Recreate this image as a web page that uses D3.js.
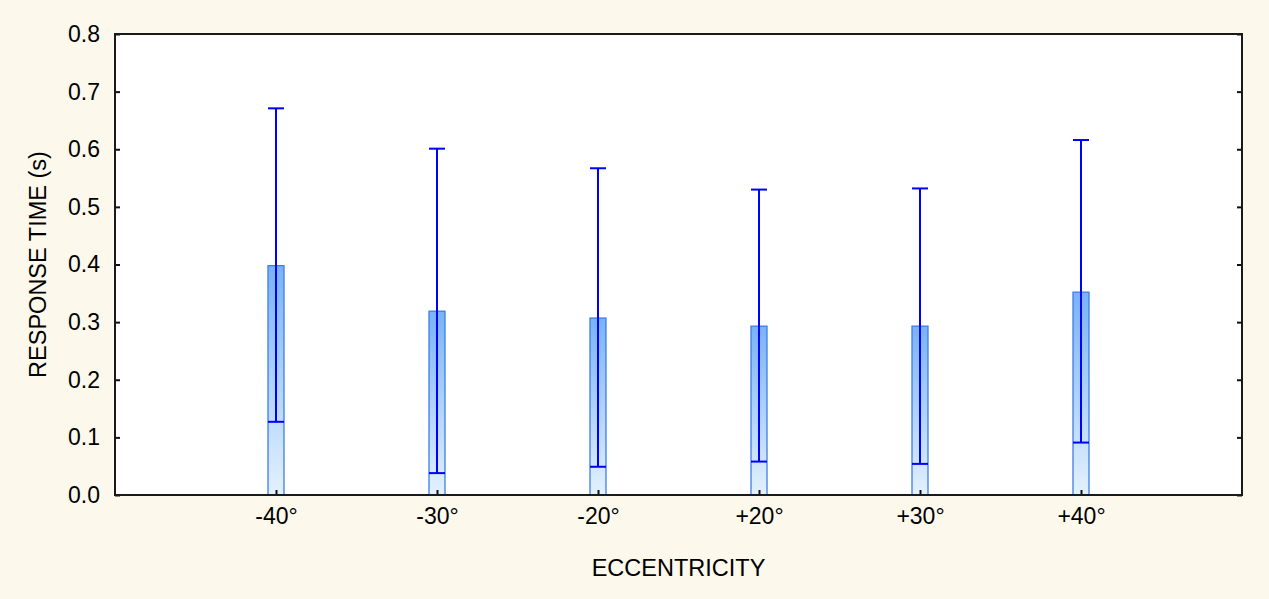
<!DOCTYPE html>
<html lang="en">
<head>
    <meta charset="UTF-8">
    <title>Response time by eccentricity</title>
    <style>
        body {
            margin: 0;
            padding: 0;
            background-color: #fdf8ec;
            font-family: "Liberation Sans", Arial, sans-serif;
        }

        .axis text {
            font-size: 23px;
            fill: #000;
        }

        .title {
            font-size: 23.5px;
            fill: #000;
        }
    </style>
</head>
<body>

<svg width="1269" height="599" id="chart"></svg>

<script src="https://d3js.org/d3.v7.min.js"></script>
<script>
    // Data
    const categories = ["-40°", "-30°", "-20°", "+20°", "+30°", "+40°"];
    const means = [0.398, 0.319, 0.307, 0.293, 0.293, 0.352];
    const upper = [0.671, 0.601, 0.567, 0.530, 0.532, 0.616];
    const lower = [0.127, 0.038, 0.049, 0.058, 0.054, 0.091];
    const yTicks = [0, 0.1, 0.2, 0.3, 0.4, 0.5, 0.6, 0.7, 0.8];

    const svg = d3.select("#chart");

    // Plot frame
    const margin = { top: 34, right: 27, bottom: 104, left: 115 };
    const width = 1269 - margin.left - margin.right;
    const height = 599 - margin.top - margin.bottom;

    const xScale = d3.scalePoint()
        .domain(categories)
        .range([0, width])
        .padding(1);

    const yScale = d3.scaleLinear()
        .domain([0, 0.8])
        .range([height, 0]);

    const defs = svg.append("defs");
    const grad = defs.append("linearGradient")
        .attr("id", "barFill")
        .attr("x1", 0).attr("y1", 0)
        .attr("x2", 0).attr("y2", 1);
    grad.append("stop").attr("offset", "0%").attr("stop-color", "#78b3f8");
    grad.append("stop").attr("offset", "100%").attr("stop-color", "#e3f1fe");

    const g = svg.append("g")
        .attr("transform", `translate(${margin.left},${margin.top})`);

    // White plot background
    g.append("rect")
        .attr("width", width)
        .attr("height", height)
        .attr("fill", "#fff");

    const barWidth = 16;

    // Bars
    g.selectAll("rect.bar")
        .data(categories)
        .enter().append("rect")
        .attr("class", "bar")
        .attr("x", d => xScale(d) - barWidth / 2)
        .attr("y", (d, i) => yScale(means[i]))
        .attr("width", barWidth)
        .attr("height", (d, i) => height - yScale(means[i]))
        .attr("fill", "url(#barFill)")
        .attr("stroke", "#3f7de6")
        .attr("stroke-width", 1.3);

    // Error bars
    const err = g.selectAll("g.err")
        .data(categories)
        .enter().append("g")
        .attr("class", "err")
        .attr("stroke", "#0000ff")
        .attr("stroke-width", 2);

    err.append("line")
        .attr("x1", d => xScale(d))
        .attr("x2", d => xScale(d))
        .attr("y1", (d, i) => yScale(upper[i]))
        .attr("y2", (d, i) => yScale(lower[i]));

    err.append("line")
        .attr("x1", d => xScale(d) - barWidth / 2)
        .attr("x2", d => xScale(d) + barWidth / 2)
        .attr("y1", (d, i) => yScale(upper[i]))
        .attr("y2", (d, i) => yScale(upper[i]));

    err.append("line")
        .attr("x1", d => xScale(d) - barWidth / 2)
        .attr("x2", d => xScale(d) + barWidth / 2)
        .attr("y1", (d, i) => yScale(lower[i]))
        .attr("y2", (d, i) => yScale(lower[i]));

    // Axes
    const yAxis = g.append("g")
        .attr("class", "axis")
        .call(d3.axisLeft(yScale)
            .tickValues(yTicks)
            .tickFormat(d3.format(".1f"))
            .tickSizeInner(-5)
            .tickSizeOuter(0)
            .tickPadding(15));

    const yAxisRight = g.append("g")
        .attr("class", "axis")
        .attr("transform", `translate(${width},0)`)
        .call(d3.axisRight(yScale)
            .tickValues(yTicks)
            .tickFormat("")
            .tickSizeInner(-5)
            .tickSizeOuter(0));

    const xAxis = g.append("g")
        .attr("class", "axis")
        .attr("transform", `translate(0,${height})`)
        .call(d3.axisBottom(xScale)
            .tickSizeInner(-5)
            .tickSizeOuter(0)
            .tickPadding(13));

    [yAxis, yAxisRight, xAxis].forEach(a => {
        a.select(".domain").remove();
        a.selectAll(".tick line").attr("stroke", "#111").attr("stroke-width", 2);
    });

    // Frame
    g.append("rect")
        .attr("width", width)
        .attr("height", height)
        .attr("fill", "none")
        .attr("stroke", "#1a1a1a")
        .attr("stroke-width", 2);

    // Titles
    svg.append("text")
        .attr("class", "title")
        .attr("x", margin.left + width / 2)
        .attr("y", 576)
        .attr("text-anchor", "middle")
        .text("ECCENTRICITY");

    svg.append("text")
        .attr("class", "title")
        .attr("transform", `translate(46,${margin.top + height / 2}) rotate(-90)`)
        .attr("text-anchor", "middle")
        .text("RESPONSE TIME (s)");
</script>
</body>
</html>
